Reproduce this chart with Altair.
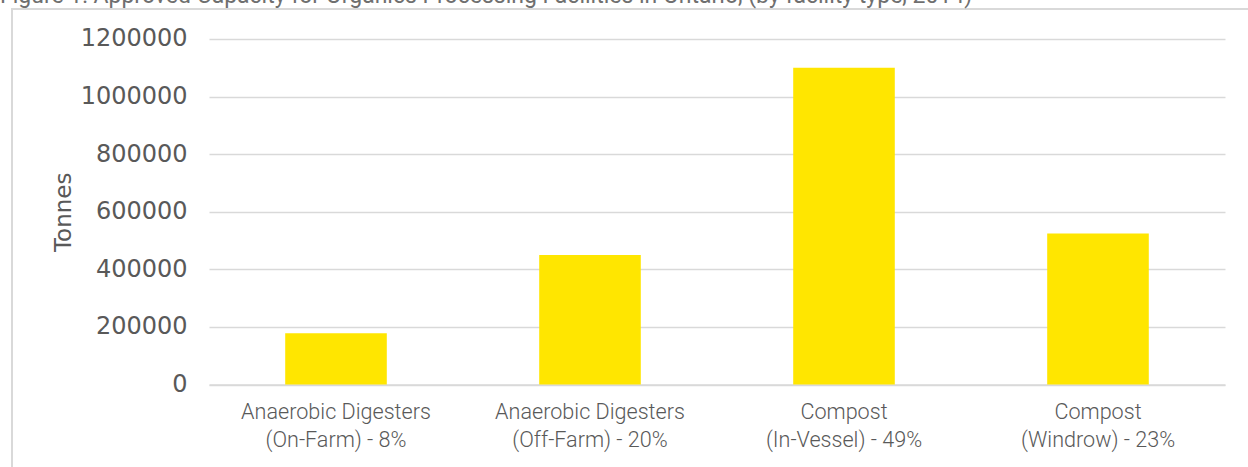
import altair as alt
import pandas as pd

# Approved processing capacity by facility type, Ontario 2014 (tonnes)
facility_types = ["Anaerobic Digesters", "Anaerobic Digesters", "Compost", "Compost"]
facility_subtypes = ["On-Farm", "Off-Farm", "In-Vessel", "Windrow"]
capacity_tonnes = [178000, 450000, 1100000, 525000]
y_ticks = [0, 200000, 400000, 600000, 800000, 1000000, 1200000]
figure_title = ("Figure 1: Approved Capacity for Organics Processing Facilities "
                "in Ontario, (by facility type, 2014)")

total = sum(capacity_tonnes)
labels = [
    f"{t}|({s}) - {round(v / total * 100)}%"
    for t, s, v in zip(facility_types, facility_subtypes, capacity_tonnes)
]
df = pd.DataFrame({"facility": labels, "tonnes": capacity_tonnes})

PLOT_W, PLOT_H = 1016, 345.6
PAD_L, PAD_T, PAD_R, PAD_B = 209, 39, 23, 83
GREY_TEXT = "#595959"
GRID = "#d9d9d9"

bars = alt.Chart(df).mark_bar(color="#FFE600").encode(
    x=alt.X(
        "facility:N",
        sort=labels,
        scale=alt.Scale(paddingInner=0.6, paddingOuter=0.3),
        axis=alt.Axis(
            title=None,
            labelAngle=0,
            labelExpr="split(datum.label, '|')",
            labelFont="Roboto",
            labelFontSize=21.6,
            labelFontWeight=300,
            labelColor=GREY_TEXT,
            labelLineHeight=28,
            labelPadding=17,
            labelBaseline="top",
            labelLimit=0,
            ticks=False,
            grid=False,
            domainColor=GRID,
            domainWidth=1.5,
        ),
    ),
    y=alt.Y(
        "tonnes:Q",
        scale=alt.Scale(domain=[0, 1200000]),
        axis=alt.Axis(
            title="Tonnes",
            titleFont="DejaVu Sans",
            titleFontSize=23,
            titleFontWeight="normal",
            titleColor=GREY_TEXT,
            titlePadding=5,
            values=y_ticks,
            format="d",
            labelFont="DejaVu Sans",
            labelFontSize=24,
            labelColor=GREY_TEXT,
            labelPadding=22,
            ticks=False,
            domain=False,
            gridColor=GRID,
            gridWidth=1.5,
        ),
    ),
)

# Light frame around the figure body
frame = alt.Chart(pd.DataFrame({"k": [0]})).mark_rect(
    fill=None, stroke=GRID, strokeWidth=2
).encode(
    x=alt.value(12 - PAD_L),
    x2=alt.value(PLOT_W + PAD_R + 40),
    y=alt.value(9 - PAD_T),
    y2=alt.value(PLOT_H + PAD_B + 40),
)

# Figure caption above the frame
caption = alt.Chart(pd.DataFrame({"t": [figure_title]})).mark_text(
    align="left",
    baseline="alphabetic",
    font="Roboto",
    fontSize=23,
    fontWeight="normal",
    color="#6f6f6f",
).encode(
    x=alt.value(-PAD_L),
    y=alt.value(3.5 - PAD_T),
    text="t:N",
)

chart = alt.layer(frame, bars, caption).properties(
    width=PLOT_W,
    height=PLOT_H,
    autosize=alt.AutoSizeParams(type="none"),
    padding={"left": PAD_L, "top": PAD_T, "right": PAD_R, "bottom": PAD_B},
).configure(background="white").configure_view(stroke=None)

chart.save("out.html", embed_options={"renderer": "svg", "actions": False})
